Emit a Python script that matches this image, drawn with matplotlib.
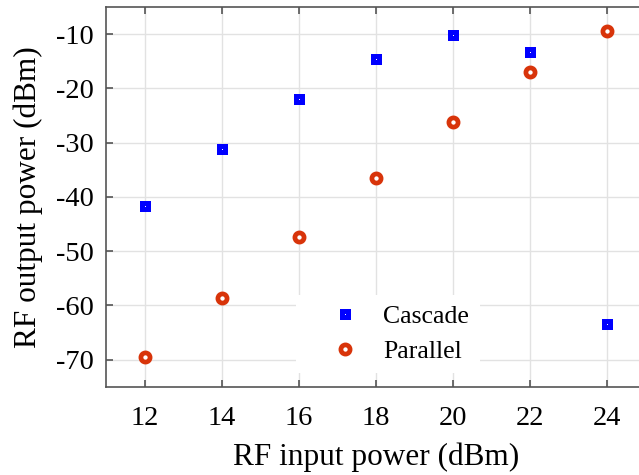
import numpy
from matplotlib import pyplot as plt

plt.rcParams['font.family'] = ['Liberation Serif', 'DejaVu Serif']
plt.rcParams['axes.unicode_minus'] = False

rf_input = [12, 14, 16, 18, 20, 22, 24]
cascade = [-41.6, -31.2, -21.9, -14.5, -10.2, -13.3, -63.4]
parallel = [-69.6, -58.7, -47.4, -36.6, -26.2, -16.9, -9.4]
xticks = [12, 14, 16, 18, 20, 22, 24]
yticks = [-70, -60, -50, -40, -30, -20, -10]

fig = plt.figure(figsize=(6.39, 4.75), dpi=100)
ax = fig.add_axes([0.1659, 0.1859, 0.8450, 0.7994])

ax.plot(rf_input, cascade, 's', ls='none', color='#0000ff', mfc='white', mec='#0000ff',
        ms=4.8, mew=3.6, label='Cascade', zorder=3)
ax.plot(rf_input, parallel, 'o', ls='none', color='#d8340a', mfc='white', mec='#d8340a',
        ms=6.6, mew=3.4, label='Parallel', zorder=3)

ax.set_xlim(11, 25)
ax.set_ylim(-75, -5)
ax.set_xticks(xticks)
ax.set_yticks(yticks)
ax.grid(True, color='#e2e2e2', lw=1.0)
ax.set_axisbelow(True)
ax.tick_params(direction='in', top=True, right=True, length=5, width=1.2,
               color='#555555', labelsize=20.5)
ax.tick_params(axis='x', pad=14)
ax.tick_params(axis='y', pad=9)
for side in ax.spines.values():
    side.set_color('#555555')
    side.set_linewidth(1.2)

ax.set_xlabel('RF input power (dBm)', fontsize=22.5, labelpad=8)
ax.set_ylabel('RF output power (dBm)', fontsize=22.5, labelpad=9)

leg = ax.legend(loc='lower left', bbox_to_anchor=(0.352, 0.036), fontsize=18.5,
                frameon=True, fancybox=False, framealpha=1, edgecolor='none',
                facecolor='white', handlelength=3, handletextpad=0.0,
                borderpad=0.4, labelspacing=0.45, borderaxespad=0)

fig.savefig('out.png', dpi=100)
